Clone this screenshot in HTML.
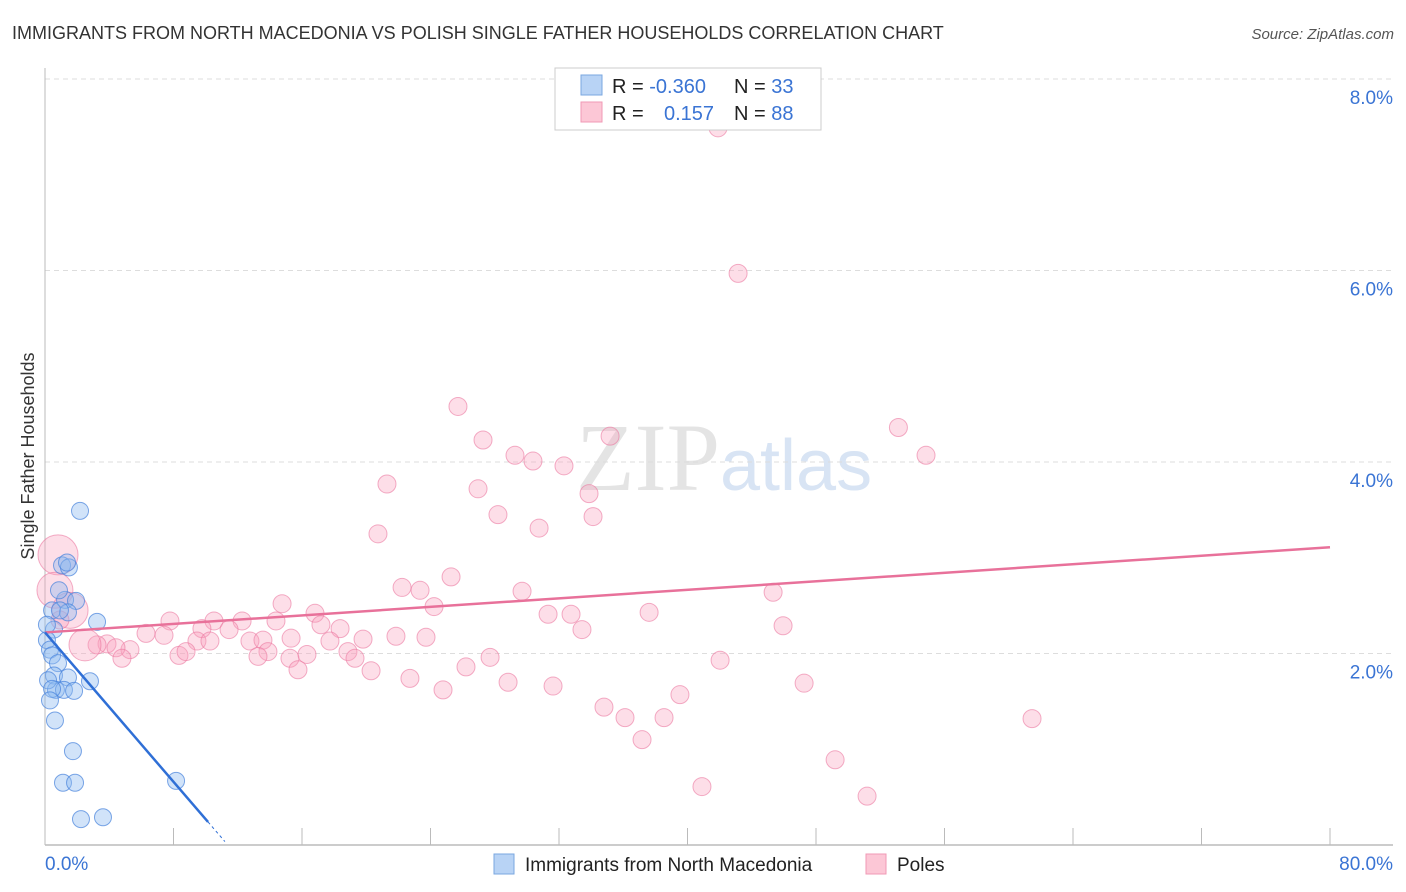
<!DOCTYPE html>
<html><head><meta charset="utf-8"><style>
body{margin:0;background:#fff;font-family:"Liberation Sans",sans-serif;}
#wrap{position:relative;width:1406px;height:892px;overflow:hidden;}
</style></head><body>
<div id="wrap">
<svg id="chart" width="1406" height="892" xmlns="http://www.w3.org/2000/svg">
<text x="12" y="39" font-size="18" fill="#333" font-family="Liberation Sans, sans-serif">IMMIGRANTS FROM NORTH MACEDONIA VS POLISH SINGLE FATHER HOUSEHOLDS CORRELATION CHART</text>
<text x="1394" y="39" font-size="15" fill="#555" font-style="italic" text-anchor="end">Source: ZipAtlas.com</text>
<text x="720" y="490" font-size="96" fill="#e4e4e4" text-anchor="end" font-family="Liberation Serif, serif">ZIP</text>
<text x="720" y="490" font-size="72" fill="#d8e4f4" font-family="Liberation Sans, sans-serif">atlas</text>
<text transform="translate(34,456) rotate(-90)" font-size="18" fill="#333" text-anchor="middle">Single Father Households</text>
<g id="grid"></g><g id="pts"></g><g id="lines"></g>
<g>
<rect x="555" y="68" width="266" height="62" fill="#fff" stroke="#ccc"/>
<rect x="581" y="75" width="21" height="20" fill="#b8d3f5" stroke="#7aa7e0"/>
<rect x="581" y="102" width="21" height="20" fill="#fcc7d6" stroke="#f09ab5"/>
<text x="612" y="93" font-size="20" fill="#222">R = <tspan fill="#3a74d4">-0.360</tspan></text>
<text x="734" y="93" font-size="20" fill="#222">N = <tspan fill="#3a74d4">33</tspan></text>
<text x="612" y="120" font-size="20" fill="#222">R = <tspan x="664" fill="#3a74d4">0.157</tspan></text>
<text x="734" y="120" font-size="20" fill="#222">N = <tspan fill="#3a74d4">88</tspan></text>
</g>
<g>
<rect x="494" y="854" width="20" height="20" fill="#b8d3f5" stroke="#7aa7e0"/>
<text x="525" y="871" font-size="19" fill="#222">Immigrants from North Macedonia</text>
<rect x="866" y="854" width="20" height="20" fill="#fcc7d6" stroke="#f09ab5"/>
<text x="897" y="871" font-size="19" fill="#222">Poles</text>
</g>
</svg>
</div>
<script>
const blueX=[2.18,1.06,1.49,1.37,1.25,1.93,0.87,0.44,1.43,3.24,0.56,0.12,0.31,0.44,0.81,0.56,1.43,0.68,1.18,1.81,2.80,0.62,1.74,1.12,1.87,2.24,3.61,8.16,0.19,0.44,0.93,0.12,0.31];
const blueY=[3.49,2.92,2.90,2.95,2.56,2.55,2.66,2.45,2.43,2.33,2.25,2.14,2.04,1.98,1.90,1.77,1.75,1.62,1.62,1.61,1.71,1.30,0.98,0.65,0.65,0.27,0.29,0.67,1.72,1.63,2.45,2.30,1.51];
const pinkX=[41.90,43.15,25.71,27.27,29.26,30.38,32.31,35.18,53.13,54.85,21.29,26.96,28.20,33.87,34.12,30.76,20.73,25.28,22.23,23.35,29.70,45.33,24.22,14.76,16.81,31.32,32.75,37.61,33.43,45.95,7.78,10.52,12.27,14.38,11.46,17.18,18.37,6.29,7.41,9.77,12.76,13.57,15.32,17.74,19.80,21.85,23.72,9.46,10.27,3.86,5.29,4.42,8.34,8.78,13.88,15.25,16.31,18.86,19.30,4.79,13.26,15.75,20.30,26.21,27.71,22.72,28.83,31.63,24.78,42.03,47.26,39.53,34.80,36.11,38.54,37.17,49.19,40.90,51.18,61.45,3.24,2.49,0.81,0.62,1.56,0.93];
const pinkY=[7.49,5.97,4.58,4.23,4.07,4.01,3.96,4.27,4.36,4.07,3.77,3.72,3.45,3.67,3.43,3.31,3.25,2.80,2.69,2.66,2.65,2.64,2.49,2.52,2.42,2.41,2.41,2.43,2.25,2.29,2.34,2.34,2.34,2.34,2.25,2.30,2.26,2.21,2.19,2.26,2.13,2.14,2.16,2.13,2.15,2.18,2.17,2.13,2.13,2.10,2.04,2.06,1.98,2.02,2.02,1.95,1.99,2.02,1.95,1.95,1.97,1.83,1.82,1.86,1.96,1.74,1.70,1.66,1.62,1.93,1.69,1.57,1.44,1.33,1.33,1.10,0.89,0.61,0.51,1.32,2.09,2.09,3.03,2.66,2.45,2.35];
const pinkR=[];pinkX.forEach(()=>pinkR.push(9));
pinkR[82]=20;pinkR[83]=18;pinkR[84]=18;pinkR[81]=16;
const yTicks=[2,4,6,8];
const yTickLabels=["2.0%","4.0%","6.0%","8.0%"];
const xTicks=[0,8,16,24,32,40,48,56,64,72,80];
const pinkTrend=[2.22,3.11];
const blueTrend=[2.22,-0.195];
const NS="http://www.w3.org/2000/svg";
const X=v=>45+v/80*1285, Y=v=>845-v/8*766;
function mk(t,a,p){const e=document.createElementNS(NS,t);for(const k in a)e.setAttribute(k,a[k]);p.appendChild(e);return e;}
const grid=document.getElementById('grid');
yTicks.forEach((t,i)=>{
 const l=mk('line',{x1:45,x2:1393,y1:Y(t),y2:Y(t),stroke:'#ddd','stroke-dasharray':'5,4'},grid);
 
 
 const tx=mk('text',{x:1393,y:Y(t)+25,'font-size':19,fill:'#3a74d4','text-anchor':'end'},grid);
 tx.textContent=yTickLabels[i];
 
 
});
const ax=mk('line',{x1:45,x2:45,y1:68,y2:845,stroke:'#bbb'},grid);


const bx=mk('line',{x1:45,x2:1393,y1:845,y2:845,stroke:'#bbb','stroke-width':1.5},grid);


xTicks.forEach(t=>{
 const l=mk('line',{x1:X(t),x2:X(t),y1:828,y2:845,stroke:'#bbb'},grid);
 
 
});
const x0=mk('text',{x:45,y:870,'font-size':19,fill:'#3a74d4'},grid);x0.textContent='0.0%';


const x1=mk('text',{x:1393,y:870,'font-size':19,fill:'#3a74d4','text-anchor':'end'},grid);x1.textContent='80.0%';


const pts=document.getElementById('pts');
pinkX.forEach((v,i)=>{
 const c=mk('circle',{cx:X(v),cy:Y(pinkY[i]),r:pinkR[i],fill:'rgba(248,160,188,0.35)',stroke:'rgba(235,120,160,0.6)'},pts);
 
 
});
blueX.forEach((v,i)=>{
 const c=mk('circle',{cx:X(v),cy:Y(blueY[i]),r:8.5,fill:'rgba(140,185,240,0.4)',stroke:'rgba(70,130,220,0.7)'},pts);
 
 
});
const lines=document.getElementById('lines');
const pl=mk('line',{x1:X(0),y1:Y(pinkTrend[0]),x2:X(80),y2:Y(pinkTrend[1]),stroke:'#e8719a','stroke-width':2.5},lines);


const bEnd=10.15, bDash=11.2;
const bl=mk('line',{x1:X(0),y1:Y(blueTrend[0]),x2:X(bEnd),y2:Y(blueTrend[0]+blueTrend[1]*bEnd),stroke:'#2f6fd6','stroke-width':2.5},lines);


const bd=mk('line',{x1:X(bEnd),y1:Y(blueTrend[0]+blueTrend[1]*bEnd),x2:X(bDash),y2:Y(blueTrend[0]+blueTrend[1]*bDash),stroke:'#2f6fd6','stroke-width':1,'stroke-dasharray':'3,3'},lines);


</script>
</body></html>
